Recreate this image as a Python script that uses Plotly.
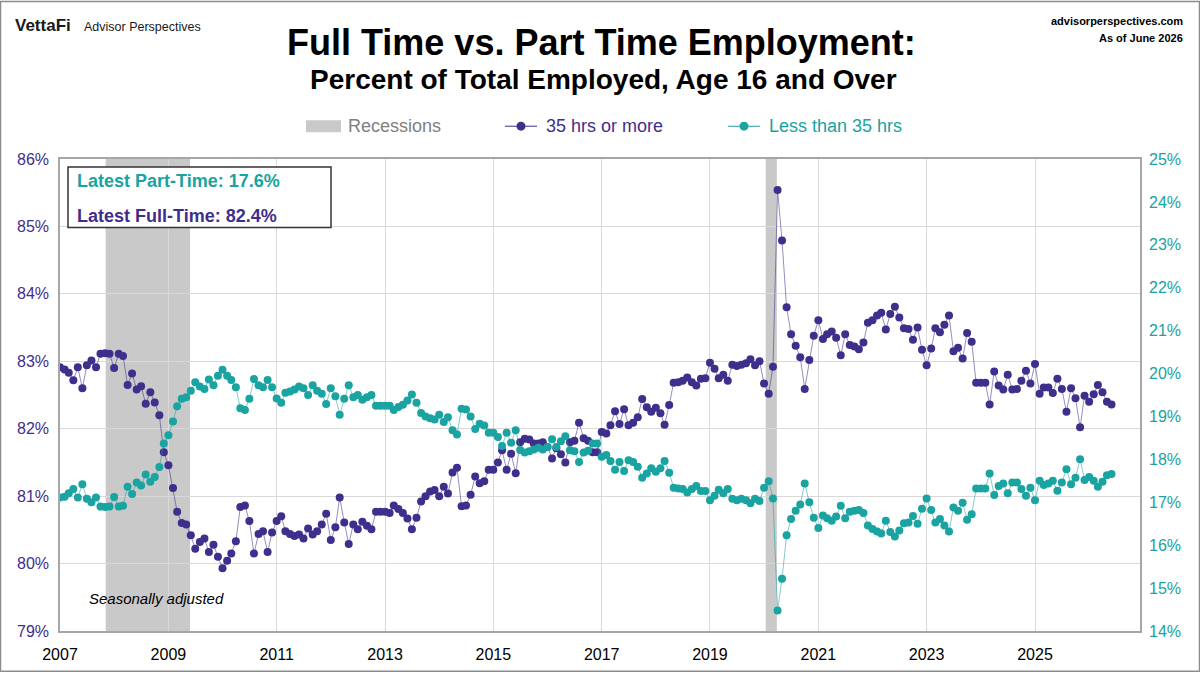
import pandas as pd
import plotly.graph_objects as go

# ---------------- data ----------------
start_month = "2007-01-01"
n_months = 234  # Jan 2007 .. Jun 2026

full_time = [
    82.91, 82.88, 82.83, 82.72, 82.91, 82.60, 82.94, 83.01, 82.91, 83.11, 83.12, 83.11,
    82.90, 83.11, 83.08, 82.65, 82.82, 82.58, 82.63, 82.37, 82.54, 82.39, 82.20, 81.65,
    81.46, 81.12, 80.77, 80.60, 80.58, 80.42, 80.22, 80.32, 80.37, 80.17, 80.28, 80.10,
    79.93, 80.04, 80.15, 80.33, 80.84, 80.86, 80.63, 80.15, 80.44, 80.48, 80.17, 80.46,
    80.63, 80.70, 80.48, 80.44, 80.41, 80.43, 80.37, 80.52, 80.43, 80.48, 80.58, 80.74,
    80.35, 80.54, 80.98, 80.61, 80.29, 80.58, 80.51, 80.62, 80.56, 80.51, 80.77, 80.77,
    80.77, 80.75, 80.86, 80.81, 80.75, 80.67, 80.51, 80.68, 80.92, 81.00, 81.07, 81.09,
    81.00, 81.14, 81.04, 81.35, 81.42, 80.85, 80.86, 81.02, 81.29, 81.19, 81.22, 81.39,
    81.39, 81.50, 81.68, 81.39, 81.63, 81.34, 81.80, 81.85, 81.84, 81.78, 81.78, 81.80,
    81.73, 81.56, 81.71, 81.62, 81.50, 81.80, 81.82, 82.09, 81.86, 81.82, 81.65, 81.65,
    81.95, 81.93, 82.05, 82.26, 82.07, 82.29, 82.05, 82.09, 82.17, 82.44, 82.32, 82.25,
    82.31, 82.23, 82.06, 82.35, 82.68, 82.69, 82.71, 82.76, 82.69, 82.64, 82.74, 82.75,
    82.98, 82.89, 82.75, 82.80, 82.71, 82.95, 82.93, 82.95, 82.97, 83.03, 82.94, 83.00,
    82.67, 82.52, 82.92, 85.54, 84.79, 83.80, 83.40, 83.23, 83.06, 82.59, 83.02, 83.38,
    83.61, 83.33, 83.40, 83.44, 83.35, 83.09, 83.40, 83.24, 83.22, 83.18, 83.28, 83.57,
    83.61, 83.68, 83.72, 83.47, 83.70, 83.81, 83.65, 83.49, 83.48, 83.32, 83.50, 83.17,
    82.94, 83.19, 83.49, 83.43, 83.54, 83.68, 83.15, 83.20, 83.04, 83.42, 83.29, 82.68,
    82.68, 82.68, 82.36, 82.85, 82.64, 82.58, 82.80, 82.58, 82.59, 82.71, 82.86, 82.67,
    82.96, 82.52, 82.61, 82.61, 82.53, 82.74, 82.59, 82.25, 82.60, 82.45, 82.02, 82.49,
    82.40, 82.51, 82.65, 82.54, 82.40, 82.36,
]

part_time = [
    17.11, 17.13, 17.21, 17.31, 17.11, 17.42, 17.08, 17.00, 17.11, 16.90, 16.89, 16.90,
    17.12, 16.90, 16.92, 17.36, 17.19, 17.46, 17.39, 17.65, 17.48, 17.59, 17.82, 18.37,
    18.56, 18.88, 19.24, 19.41, 19.45, 19.60, 19.80, 19.70, 19.64, 19.86, 19.73, 19.95,
    20.09, 19.95, 19.85, 19.68, 19.19, 19.15, 19.41, 19.87, 19.73, 19.68, 19.85, 19.68,
    19.42, 19.32, 19.55, 19.58, 19.63, 19.70, 19.66, 19.50, 19.73, 19.60, 19.53, 19.29,
    19.66, 19.47, 19.04, 19.41, 19.73, 19.45, 19.50, 19.39, 19.45, 19.50, 19.25, 19.25,
    19.25, 19.25, 19.15, 19.22, 19.27, 19.37, 19.51, 19.32, 19.08, 19.00, 18.96, 18.93,
    19.04, 18.87, 18.98, 18.68, 18.58, 19.18, 19.16, 19.00, 18.71, 18.83, 18.79, 18.62,
    18.62, 18.52, 18.31, 18.62, 18.39, 18.68, 18.22, 18.16, 18.19, 18.23, 18.27, 18.23,
    18.29, 18.47, 18.29, 18.42, 18.54, 18.21, 18.19, 17.94, 18.16, 18.20, 18.37, 18.37,
    18.06, 18.10, 17.96, 17.76, 17.94, 17.73, 17.98, 17.94, 17.83, 17.57, 17.67, 17.79,
    17.71, 17.79, 17.96, 17.69, 17.34, 17.32, 17.31, 17.23, 17.31, 17.38, 17.26, 17.26,
    17.05, 17.15, 17.29, 17.21, 17.31, 17.08, 17.05, 17.08, 17.05, 16.98, 17.08, 17.03,
    17.34, 17.49, 17.09, 14.48, 15.22, 16.23, 16.61, 16.80, 16.95, 17.44, 17.00, 16.64,
    16.40, 16.69, 16.63, 16.57, 16.67, 16.92, 16.63, 16.78, 16.80, 16.82, 16.75, 16.46,
    16.38, 16.32, 16.27, 16.57, 16.31, 16.20, 16.34, 16.51, 16.53, 16.68, 16.50, 16.85,
    17.09, 16.82, 16.53, 16.61, 16.46, 16.32, 16.88, 16.80, 16.99, 16.59, 16.72, 17.32,
    17.32, 17.32, 17.67, 17.17, 17.38, 17.44, 17.21, 17.46, 17.46, 17.31, 17.15, 17.34,
    17.05, 17.50, 17.40, 17.44, 17.50, 17.27, 17.46, 17.77, 17.42, 17.57, 18.00, 17.52,
    17.59, 17.50, 17.36, 17.48, 17.63, 17.66,
]

# shaded spans as drawn in the reference
recessions = [("2007-11-05", "2009-05-27"), ("2020-01-12", "2020-03-27")]
latest_part = "17.6%"
latest_full = "82.4%"
left_ticks = [79, 80, 81, 82, 83, 84, 85, 86]
right_ticks = list(range(14, 26))

dates = pd.date_range(start_month, periods=n_months, freq="MS")

# ---------------- style ----------------
PURPLE = "#3F2E8C"
TEAL = "#19A3A1"
GRID = "#D9D9D9"
FONT = "Liberation Sans"

W, H = 1200, 675
ML, MR, MT, MB = 60, 60, 159, 41
PW, PH = W - ML - MR, H - MT - MB


def px(x):
    return (x - ML) / PW


def py(y):
    return (H - MB - y) / PH


fig = go.Figure()

fig.add_trace(go.Scatter(
    x=dates, y=full_time, mode="lines+markers", yaxis="y",
    line=dict(color="rgba(63,46,140,0.55)", width=1),
    marker=dict(color=PURPLE, size=8, line=dict(width=0)),
    showlegend=False, name="35 hrs or more",
))
fig.add_trace(go.Scatter(
    x=dates, y=part_time, mode="lines+markers", yaxis="y2",
    line=dict(color="rgba(25,163,161,0.55)", width=1),
    marker=dict(color=TEAL, size=8, line=dict(width=0)),
    showlegend=False, name="Less than 35 hrs",
))

shapes = []
for a, b in recessions:
    shapes.append(dict(type="rect", xref="x", yref="paper", x0=a, x1=b, y0=0, y1=1,
                       fillcolor="#C9C9C9", line=dict(width=0), layer="between"))

# text box
shapes.append(dict(type="rect", xref="paper", yref="paper",
                   x0=px(68), x1=px(331), y0=py(228), y1=py(167),
                   fillcolor="white", line=dict(color="#333333", width=1.5), layer="above"))

# outer frame
shapes.append(dict(type="rect", xref="paper", yref="paper",
                   x0=px(0.5), x1=px(1199.5), y0=py(674.5), y1=py(0.5),
                   fillcolor="rgba(0,0,0,0)", line=dict(color="#8C8C8C", width=1.5), layer="above"))

# legend symbols
ly = 126
shapes.append(dict(type="rect", xref="paper", yref="paper",
                   x0=px(306), x1=px(341), y0=py(132), y1=py(120),
                   fillcolor="#C9C9C9", line=dict(width=0)))
for (x0, x1, col) in [(505, 537, PURPLE), (728, 760, TEAL)]:
    shapes.append(dict(type="line", xref="paper", yref="paper",
                       x0=px(x0), x1=px(x1), y0=py(ly), y1=py(ly),
                       line=dict(color=col, width=1)))
    cx = (x0 + x1) / 2
    shapes.append(dict(type="circle", xref="paper", yref="paper",
                       x0=px(cx - 4.5), x1=px(cx + 4.5), y0=py(ly + 4.5), y1=py(ly - 4.5),
                       fillcolor=col, line=dict(width=0)))

annotations = [
    dict(text="<b>Full Time vs. Part Time Employment:</b>", x=px(601), y=py(42),
         font=dict(size=36, color="black", family=FONT)),
    dict(text="<b>Percent of Total Employed, Age 16 and Over</b>", x=px(603), y=py(79),
         font=dict(size=28, color="black", family=FONT)),
    dict(text="<b>VettaFi</b>", x=px(13), y=py(25), xanchor="left",
         font=dict(size=17, color="#1a1a1a", family=FONT)),
    dict(text="Advisor Perspectives", x=px(82), y=py(26), xanchor="left",
         font=dict(size=12.5, color="#1a1a1a", family=FONT)),
    dict(text="<b>advisorperspectives.com</b>", x=px(1185), y=py(20), xanchor="right",
         font=dict(size=11, color="black", family=FONT)),
    dict(text="<b>As of June 2026</b>", x=px(1185), y=py(37), xanchor="right",
         font=dict(size=11, color="black", family=FONT)),
    dict(text="Recessions", x=px(346), y=py(ly), xanchor="left",
         font=dict(size=18, color="#808080", family=FONT)),
    dict(text="35 hrs or more", x=px(544), y=py(ly), xanchor="left",
         font=dict(size=18, color=PURPLE, family=FONT)),
    dict(text="Less than 35 hrs", x=px(767), y=py(ly), xanchor="left",
         font=dict(size=18, color=TEAL, family=FONT)),
    dict(text="<b>Latest Part-Time: " + latest_part + "</b>", x=px(75), y=py(181), xanchor="left",
         font=dict(size=18, color=TEAL, family=FONT)),
    dict(text="<b>Latest Full-Time: " + latest_full + "</b>", x=px(75), y=py(216), xanchor="left",
         font=dict(size=18, color=PURPLE, family=FONT)),
    dict(text="<i>Seasonally adjusted</i>", x=px(87), y=py(601), xanchor="left",
         font=dict(size=15, color="black", family=FONT)),
]
for a in annotations:
    a.setdefault("xref", "paper")
    a.setdefault("yref", "paper")
    a.setdefault("showarrow", False)
    a.setdefault("yanchor", "middle")
    a.setdefault("xanchor", "center")

fig.update_layout(
    width=W, height=H,
    margin=dict(l=ML, r=MR, t=MT, b=MB, pad=0),
    paper_bgcolor="white", plot_bgcolor="white",
    font=dict(family=FONT, size=16, color="black"),
    showlegend=False,
    shapes=shapes,
    annotations=annotations,
    xaxis=dict(
        type="date", range=["2007-01-01", "2026-12-10"],
        tick0="2007-01-01", dtick="M24", tickformat="%Y",
        showgrid=True, gridcolor=GRID, gridwidth=1.3,
        showline=True, linecolor="#A6A6A6", linewidth=1.5, mirror=True,
        ticks="", tickfont=dict(size=16, color="black", family=FONT),
        ticklabelstandoff=8,
    ),
    yaxis=dict(
        range=[79, 86], tickvals=left_ticks, ticktext=[f"{v}%" for v in left_ticks],
        showgrid=True, gridcolor=GRID, gridwidth=1.3, zeroline=False,
        showline=True, linecolor="#A6A6A6", linewidth=1.5, mirror=True,
        ticks="", tickfont=dict(size=16, color=PURPLE, family=FONT),
        ticklabelstandoff=6,
    ),
    yaxis2=dict(
        range=[14, 25], tickvals=right_ticks, ticktext=[f"{v}%" for v in right_ticks],
        overlaying="y", side="right", showgrid=False, zeroline=False,
        ticks="", tickfont=dict(size=16, color=TEAL, family=FONT),
        ticklabelstandoff=8,
    ),
)

fig.write_html("out.html")
